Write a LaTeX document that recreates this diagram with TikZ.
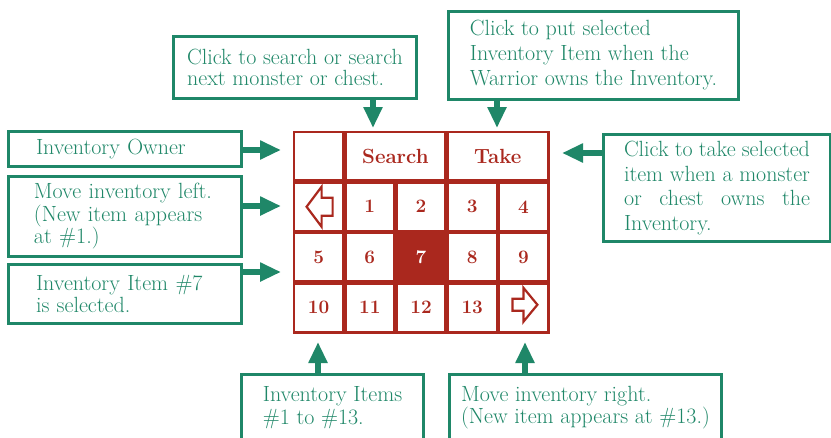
\documentclass[tikz,border=0pt]{standalone}
\usepackage{tikz}
\usetikzlibrary{positioning,arrows.meta}

\definecolor{notegreen}{RGB}{31,135,104}
\definecolor{panelred}{RGB}{170,40,30}

\tikzset{
  note/.style={draw=notegreen, line width=3pt, text=notegreen, anchor=north west,
    font=\fontsize{22}{22.5}\selectfont, align=left, inner sep=0pt},
  cell/.style={fill=white, minimum width=46.6pt, minimum height=46pt, inner sep=0pt,
    text=panelred, font=\fontsize{19}{20}\selectfont\bfseries},
  garrow/.style={draw=notegreen, line width=6pt, -{Triangle[length=21pt,width=18pt]}}
}

\begin{document}
\begin{tikzpicture}[x=1pt,y=-1pt]
\useasboundingbox (0,0) rectangle (831,437);
\clip (0,0) rectangle (831,437);
% Panel
\node[fill=panelred, minimum width=257pt, minimum height=203pt, anchor=north west, inner sep=0pt] (panel) at (292.5,130.5) {};
\node[cell] (owner) at (318.6,156.25) {};
\node[cell, minimum width=97.8pt, font=\fontsize{20.5}{22}\selectfont\bfseries] (search) at (395.4,156.25) {Search};
\node[cell, minimum width=97.8pt, font=\fontsize{20.5}{22}\selectfont\bfseries] (take) at (497.8,156.25) {Take};
\node[cell] (lcell) at (318.6,206.75) {};
\node[cell] (c1) at (369.8,206.75) {1};
\node[cell] (c2) at (421,206.75) {2};
\node[cell] (c3) at (472.2,206.75) {3};
\node[cell] (c4) at (523.4,206.75) {4};
\node[cell] (c5) at (318.6,257.25) {5};
\node[cell] (c6) at (369.8,257.25) {6};
\node[cell, fill=panelred, text=white] (c7) at (421,257.25) {7};
\node[cell] (c8) at (472.2,257.25) {8};
\node[cell] (c9) at (523.4,257.25) {9};
\node[cell] (c10) at (318.6,307.75) {10};
\node[cell] (c11) at (369.8,307.75) {11};
\node[cell] (c12) at (421,307.75) {12};
\node[cell] (c13) at (472.2,307.75) {13};
\node[cell] (rcell) at (523.4,307.75) {};
% Hollow arrows in the panel
\draw[shift={(lcell.center)}, panelred, line width=2.2pt] (-12,0) -- (3,-20) -- (3,-9) -- (14,-9) -- (14,9) -- (3,9) -- (3,20) -- cycle;
\draw[shift={(rcell.center)}, panelred, line width=2.2pt] (14,-3) -- (0,-20) -- (0,-9) -- (-11,-9) -- (-11,3) -- (0,3) -- (0,14) -- cycle;
% Notes
\node[note, minimum width=243pt, minimum height=62pt, font=\fontsize{22}{21}\selectfont] (snote) at (172,35) {Click to search or search\\next monster or chest.};
\node[note, minimum width=290pt, minimum height=88pt, font=\fontsize{22}{25}\selectfont] (tnote) at (447,10) {Click to put selected\\Inventory Item when the\\Warrior owns the Inventory.};
\node[note, minimum width=233pt, minimum height=35pt, text width=178pt] (onote) at (7,130) {Inventory Owner};
\node[note, minimum width=233pt, minimum height=80pt, text width=182pt] (lnote) at (7,175) {Move inventory left.\\(New item appears\\at \#1.)};
\node[note, minimum width=233pt, minimum height=59pt, text width=178pt] (inote) at (7,263) {Inventory Item \#7\\is selected.};
\node[note, minimum width=227pt, minimum height=107pt, font=\fontsize{22}{24.5}\selectfont] (rnote) at (602,133) {\makebox[186pt][s]{Click to take selected}\\\makebox[186pt][s]{item when a monster}\\\makebox[186pt][s]{or chest owns the}\\Inventory.};
\node[note, minimum width=182pt, minimum height=66pt] (bnote) at (240,373) {Inventory Items\\\#1 to \#13.};
\node[note, minimum width=272pt, minimum height=66pt] (mnote) at (448,373) {Move inventory right.\\(New item appears at \#13.)};
% Arrow tips
\coordinate (tsearch) at (373,128);
\coordinate (ttake) at (497,128);
\coordinate (towner) at (281,150);
\coordinate (tleft) at (281,206);
\coordinate (tsel) at (281,272);
\coordinate (tright) at (562,153);
\coordinate (titems) at (318,342);
\coordinate (tmove) at (525,342);
% Connectors
\draw[garrow] (snote.south -| tsearch) -- (tsearch);
\draw[garrow] (tnote.south -| ttake) -- (ttake);
\draw[garrow] (onote.east |- towner) -- (towner);
\draw[garrow] (lnote.east |- tleft) -- (tleft);
\draw[garrow] (inote.east |- tsel) -- (tsel);
\draw[garrow] (rnote.west |- tright) -- (tright);
\draw[garrow] (bnote.north -| titems) -- (titems);
\draw[garrow] (mnote.north -| tmove) -- (tmove);
\end{tikzpicture}
\end{document}
